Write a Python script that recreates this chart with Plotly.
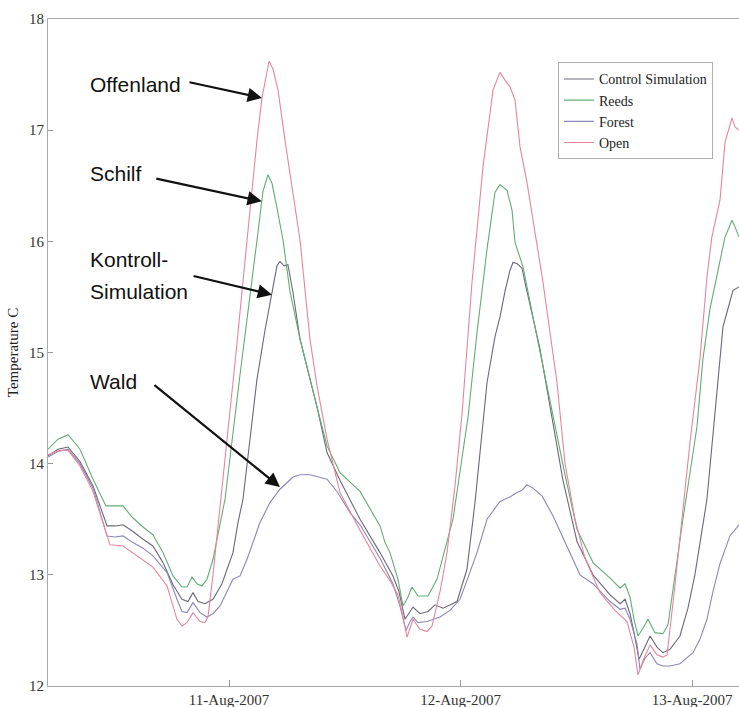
import pandas as pd
import plotly.graph_objects as go

# Simulated water temperature for different bank vegetation scenarios,
# hourly-ish model output (hours counted from 10-Aug-2007 00:00).
BASE = pd.Timestamp("2007-08-10")

control_hours = [5.25, 6.28, 7.32, 8.56, 9.91, 11.36, 12.19, 13.02, 14.05, 15.09, 16.12, 17.16, 18.2,
                 19.13, 19.75, 20.27, 20.79, 21.51, 22.34, 23.27, 24.41, 24.93, 25.45, 26.18, 26.9,
                 27.73, 28.46, 28.97, 29.28, 29.7, 30.11, 30.63, 31.36, 33.12, 34.16, 35.5, 37.58,
                 39.65, 40.99, 41.61, 42.24, 42.66, 43.07, 43.79, 44.62, 45.35, 46.18, 47.63, 48.66,
                 49.49, 50.32, 50.74, 51.56, 52.08, 52.6, 53.12, 53.43, 53.84, 54.36, 54.67, 56.23,
                 57.47, 58.61, 60.06, 61.72, 63.49, 64.53, 65.04, 65.56, 65.97, 66.49, 67.1, 67.63,
                 68.35, 68.97, 69.7, 70.73, 71.56, 72.28, 73.53, 74.56, 75.19, 75.6, 76.23, 76.85]
control_temp = [14.07, 14.13, 14.15, 14.02, 13.80, 13.44, 13.44, 13.45, 13.39, 13.32, 13.26, 13.11, 12.91,
                12.78, 12.76, 12.84, 12.76, 12.74, 12.78, 12.92, 13.20, 13.47, 13.68, 14.20, 14.76,
                15.20, 15.55, 15.78, 15.82, 15.78, 15.79, 15.54, 15.12, 14.51, 14.10, 13.85, 13.50,
                13.20, 12.99, 12.85, 12.60, 12.66, 12.71, 12.65, 12.67, 12.73, 12.70, 12.76, 13.05,
                13.65, 14.35, 14.73, 15.14, 15.32, 15.55, 15.74, 15.81, 15.80, 15.76, 15.63, 15.03,
                14.42, 13.85, 13.30, 13.00, 12.82, 12.74, 12.78, 12.65, 12.48, 12.24, 12.35, 12.45,
                12.35, 12.30, 12.33, 12.45, 12.70, 13.00, 13.68, 14.64, 15.23, 15.36, 15.56, 15.59]

reeds_hours = [5.25, 6.28, 7.32, 8.56, 9.91, 11.25, 12.19, 13.02, 13.95, 14.47, 15.09, 16.12, 17.16,
               18.2, 19.13, 19.65, 20.17, 20.68, 21.2, 21.72, 22.34, 23.59, 25.14, 26.9, 27.52, 28.04,
               28.46, 28.97, 29.6, 30.32, 31.36, 33.12, 34.16, 35.5, 37.58, 39.65, 40.17, 40.68, 40.99,
               41.51, 42.03, 42.55, 42.96, 43.59, 44.62, 45.55, 47.21, 48.25, 48.77, 49.7, 50.74, 51.56,
               52.08, 52.81, 53.33, 53.64, 54.47, 55.5, 57.58, 58.82, 60.06, 61.72, 63.49, 64.53, 65.04,
               65.56, 65.97, 66.38, 66.9, 67.42, 68.14, 68.97, 69.49, 71.04, 72.49, 73.11, 73.84, 74.88,
               75.4, 75.8, 76.12, 76.44, 76.85]
reeds_temp = [14.13, 14.22, 14.26, 14.13, 13.86, 13.62, 13.62, 13.62, 13.52, 13.48, 13.43, 13.36, 13.20,
              12.99, 12.89, 12.89, 12.98, 12.92, 12.90, 12.96, 13.14, 13.68, 14.80, 16.01, 16.45, 16.60,
              16.52, 16.30, 16.01, 15.55, 15.12, 14.51, 14.16, 13.92, 13.75, 13.44, 13.29, 13.20, 13.11,
              12.96, 12.72, 12.80, 12.89, 12.81, 12.81, 12.96, 13.50, 14.10, 14.42, 15.18, 15.93, 16.44,
              16.51, 16.46, 16.28, 15.99, 15.77, 15.32, 14.42, 13.90, 13.41, 13.11, 12.97, 12.88, 12.92,
              12.80, 12.60, 12.45, 12.52, 12.60, 12.48, 12.47, 12.55, 13.50, 14.33, 14.94, 15.39, 15.83,
              16.04, 16.12, 16.19, 16.13, 16.04]

forest_hours = [5.25, 6.28, 7.32, 8.56, 9.91, 11.36, 12.19, 13.02, 14.05, 15.09, 16.12, 17.58, 18.61,
                19.13, 19.65, 20.27, 21.0, 21.72, 22.34, 23.07, 24.41, 25.14, 25.87, 27.21, 28.25, 29.28,
                30.63, 31.36, 32.39, 33.43, 34.16, 35.19, 36.54, 37.58, 39.65, 40.99, 41.71, 42.34, 42.76,
                43.07, 43.59, 44.52, 45.87, 46.91, 47.94, 48.66, 49.7, 50.74, 52.08, 53.12, 53.84, 54.36,
                54.88, 55.5, 56.43, 57.58, 59.03, 60.37, 61.72, 63.49, 64.53, 65.04, 65.56, 66.28, 66.59,
                67.1, 67.63, 68.35, 68.97, 69.7, 70.73, 72.08, 72.8, 73.53, 74.15, 74.88, 75.91, 76.85]
forest_temp = [14.06, 14.11, 14.13, 14.00, 13.78, 13.35, 13.34, 13.35, 13.29, 13.24, 13.17, 13.02, 12.78,
               12.67, 12.66, 12.75, 12.66, 12.62, 12.65, 12.72, 12.96, 12.99, 13.14, 13.47, 13.65, 13.77,
               13.88, 13.90, 13.90, 13.88, 13.86, 13.75, 13.56, 13.45, 13.15, 12.92, 12.72, 12.50, 12.58,
               12.62, 12.57, 12.58, 12.62, 12.68, 12.78, 12.95, 13.20, 13.50, 13.66, 13.70, 13.74, 13.76,
               13.81, 13.78, 13.71, 13.53, 13.26, 13.00, 12.92, 12.76, 12.69, 12.70, 12.60, 12.38, 12.15,
               12.25, 12.30, 12.20, 12.18, 12.18, 12.20, 12.30, 12.42, 12.60, 12.85, 13.10, 13.35, 13.45]

open_hours = [5.25, 6.49, 7.32, 8.56, 9.91, 11.67, 13.02, 14.47, 16.12, 17.58, 18.61, 19.13, 19.65,
              20.27, 21.0, 21.51, 21.82, 22.34, 23.17, 23.9, 24.73, 25.87, 26.9, 27.42, 28.15, 28.56,
              29.08, 29.8, 30.63, 31.36, 32.39, 33.12, 34.16, 35.5, 37.58, 39.65, 40.68, 41.51, 42.03,
              42.45, 43.07, 43.79, 44.52, 45.04, 45.87, 46.59, 47.42, 48.15, 49.18, 50.32, 51.36, 52.08,
              52.6, 53.12, 53.64, 54.16, 54.88, 56.54, 57.99, 58.82, 59.86, 60.89, 62.45, 64.0, 65.24,
              65.97, 66.38, 67.0, 67.63, 68.35, 68.97, 69.39, 70.21, 71.04, 71.77, 72.8, 73.53, 74.04,
              74.88, 75.4, 76.12, 76.44, 76.85]
open_temp = [14.08, 14.12, 14.12, 13.98, 13.75, 13.27, 13.26, 13.17, 13.07, 12.90, 12.60, 12.54, 12.57,
             12.66, 12.58, 12.57, 12.62, 13.00, 13.68, 14.30, 15.00, 16.01, 16.91, 17.29, 17.62, 17.55,
             17.36, 16.91, 16.45, 16.01, 15.12, 14.70, 14.22, 13.74, 13.40, 13.08, 12.95, 12.82, 12.62,
             12.44, 12.60, 12.51, 12.49, 12.54, 12.85, 13.20, 13.80, 14.45, 15.63, 16.67, 17.36, 17.52,
             17.45, 17.39, 17.27, 16.85, 16.53, 15.63, 14.73, 14.00, 13.50, 13.15, 12.84, 12.68, 12.58,
             12.35, 12.10, 12.25, 12.37, 12.28, 12.26, 12.28, 12.90, 13.60, 14.19, 14.94, 15.68, 16.04,
             16.37, 16.89, 17.11, 17.03, 17.00]

series_names = ["Control Simulation", "Reeds", "Forest", "Open"]
series_colors = ["#6c6878", "#62ad76", "#8a88b6", "#e6869c"]
series_hours = [control_hours, reeds_hours, forest_hours, open_hours]
series_temps = [control_temp, reeds_temp, forest_temp, open_temp]

# German callouts: label lines with their vertical paper positions,
# arrow tip (hours, temperature) and tail offset in px
callout_lines = [["Offenland"], ["Schilf"], ["Kontroll-", "Simulation"], ["Wald"]]
callout_label_pos = [[0.9025], [0.769], [0.639, 0.592], [0.457]]
callout_tips = [(27.42, 17.29), (27.40, 16.36), (28.46, 15.52), (29.28, 13.79)]
callout_tails = [(-74, -16), (-107, -23), (-80, -19), (-127, -103)]

x_start_hours, x_end_hours = 5.244, 76.85
date_ticks = ["2007-08-11", "2007-08-12", "2007-08-13"]


def to_time(hours):
    return BASE + pd.to_timedelta(hours, unit="h")


fig = go.Figure()
for name, color, hrs, temps in zip(series_names, series_colors, series_hours, series_temps):
    fig.add_trace(go.Scatter(
        x=to_time(hrs), y=temps, mode="lines", name=name,
        line=dict(color=color, width=1.1),
    ))

annotations = []
for lines, ys, (tip_h, tip_t), (ax, ay) in zip(callout_lines, callout_label_pos,
                                                 callout_tips, callout_tails):
    for text, yp in zip(lines, ys):
        annotations.append(dict(
            text=text, xref="paper", yref="paper", x=0.058, y=yp,
            xanchor="left", yanchor="middle", showarrow=False,
            font=dict(family="Liberation Sans, Arial", size=21, color="#111111"),
        ))
    annotations.append(dict(
        text="", x=to_time(tip_h), y=tip_t, xref="x", yref="y",
        ax=ax, ay=ay, showarrow=True, arrowhead=2, arrowsize=1.3,
        arrowwidth=2.2, arrowcolor="#111111", standoff=0,
    ))

serif = "Liberation Serif, Times New Roman, serif"

fig.update_layout(
    width=739, height=707,
    margin=dict(l=48, r=0, t=19, b=21),
    paper_bgcolor="white", plot_bgcolor="white",
    showlegend=True,
    legend=dict(
        x=0.738, y=0.935, xanchor="left", yanchor="top",
        bgcolor="white", bordercolor="#b0b0b0", borderwidth=1,
        font=dict(family=serif, size=14, color="#222222"),
        itemwidth=30, tracegroupgap=0,
    ),
    annotations=annotations,
    xaxis=dict(
        range=[to_time(x_start_hours), to_time(x_end_hours)],
        tickvals=date_ticks, tickformat="%d-%b-%Y",
        ticks="inside", ticklen=6, tickcolor="#999999",
        showline=True, linecolor="#aaaaaa", linewidth=1, mirror=True,
        showgrid=False, zeroline=False, automargin=False,
        tickfont=dict(family=serif, size=15, color="#333333"),
    ),
    yaxis=dict(
        range=[12, 18], dtick=1,
        ticks="inside", ticklen=5, tickcolor="#999999",
        showline=True, linecolor="#aaaaaa", linewidth=1, mirror=False,
        showgrid=False, zeroline=False, automargin=False,
        tickfont=dict(family=serif, size=15, color="#333333"),
        title=dict(text="Temperature C", standoff=6,
                   font=dict(family=serif, size=15, color="#222222")),
    ),
)

fig.write_html("out.html", config={"displayModeBar": False})
